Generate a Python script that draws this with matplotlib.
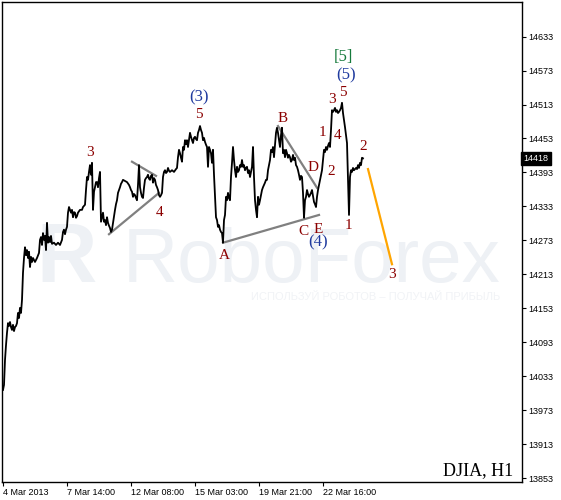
import matplotlib
matplotlib.use("Agg")
import matplotlib.pyplot as plt

# -------------------------------
# Data: DJIA H1 closes (bar index -> price)
# -------------------------------
bars = [3, 4, 5, 6, 7, 8, 9, 10, 11, 12, 13, 14, 15, 16, 17, 18, 19, 20, 21, 22,
        23, 24, 25, 26, 27, 28, 29, 30, 31, 32, 33, 35, 37, 39, 40, 41, 42, 43, 44, 45,
        46, 47, 48, 49, 50, 51, 52, 54, 56, 58, 60, 62, 63, 64, 65, 66, 67, 68, 69, 70,
        71, 72, 73, 74, 75, 76, 77, 78, 80, 82, 83, 85, 86, 87, 88, 89, 90, 91, 92, 93,
        94, 95, 96, 97, 98, 99, 100, 101, 102, 103, 104, 105, 106, 107, 108, 109, 110, 111, 112, 113,
        114, 115, 116, 117, 118, 119, 120, 121, 122, 123, 125, 127, 129, 130, 131, 132, 133, 134, 135, 136,
        137, 138, 139, 140, 141, 142, 143, 144, 145, 146, 147, 148, 149, 150, 151, 152, 153, 154, 155, 156,
        157, 158, 159, 160, 161, 162, 163, 164, 165, 166, 167, 168, 169, 170, 172, 174, 176, 177, 178, 179,
        180, 181, 182, 183, 184, 185, 186, 187, 188, 189, 190, 191, 192, 193, 194, 195, 196, 197, 198, 199,
        200, 201, 202, 203, 204, 205, 206, 207, 208, 209, 210, 211, 212, 213, 214, 215, 216, 217, 218, 219,
        220, 221, 222, 223, 224, 225, 226, 227, 228, 229, 230, 231, 232, 233, 234, 235, 236, 237, 238, 239,
        240, 241, 242, 243, 244, 245, 246, 247, 248, 249, 250, 251, 252, 253, 254, 255, 256, 257, 258, 259,
        260, 261, 262, 263, 264, 265, 266, 267, 268, 269, 270, 271, 272, 273, 274, 275, 276, 277, 278, 279,
        280, 281, 282, 283, 284, 285, 286, 287, 288, 289, 290, 291, 292, 293, 294, 295, 296, 297, 298, 299,
        300, 301, 302, 303, 304, 305, 306, 307, 308, 309, 310, 311, 312, 313, 314, 315, 316, 317, 318, 319,
        320, 321, 322, 323, 324, 325, 326, 327, 328, 329, 330, 331, 332, 333, 334, 335, 336, 337, 338, 339,
        340, 341, 342, 343, 344, 345, 346, 347, 348, 349, 350, 351, 352, 353, 354, 355, 356, 357, 358, 359,
        360, 361, 362, 363]
close = [14009, 14018, 14062, 14088, 14110, 14127, 14122, 14129, 14120, 14115, 14124, 14113, 14120, 14122, 14127, 14145, 14136, 14154, 14145, 14168,
         14216, 14242, 14261, 14247, 14256, 14242, 14253, 14226, 14244, 14235, 14242, 14235, 14242, 14251, 14274, 14279, 14265, 14286, 14274, 14281,
         14256, 14304, 14269, 14279, 14270, 14281, 14267, 14269, 14265, 14269, 14265, 14274, 14288, 14292, 14284, 14292, 14297, 14322, 14332, 14327,
         14322, 14327, 14314, 14323, 14322, 14313, 14316, 14322, 14327, 14327, 14332, 14336, 14362, 14385, 14380, 14394, 14406, 14389, 14410, 14327,
         14359, 14367, 14376, 14376, 14367, 14383, 14394, 14306, 14314, 14322, 14306, 14309, 14300, 14314, 14304, 14299, 14295, 14288, 14292, 14304,
         14316, 14327, 14337, 14344, 14357, 14362, 14367, 14373, 14376, 14380, 14378, 14376, 14371, 14367, 14362, 14359, 14350, 14355, 14353, 14348,
         14344, 14371, 14406, 14367, 14357, 14350, 14348, 14366, 14380, 14383, 14385, 14389, 14382, 14380, 14387, 14389, 14375, 14383, 14380, 14371,
         14367, 14362, 14353, 14350, 14353, 14357, 14385, 14394, 14397, 14392, 14394, 14401, 14396, 14394, 14397, 14394, 14399, 14401, 14420, 14433,
         14427, 14419, 14412, 14438, 14433, 14450, 14443, 14450, 14438, 14450, 14463, 14456, 14450, 14445, 14454, 14456, 14452, 14450, 14463, 14468,
         14475, 14468, 14463, 14450, 14454, 14447, 14442, 14438, 14403, 14438, 14433, 14427, 14410, 14433, 14389, 14353, 14314, 14309, 14297, 14300,
         14292, 14288, 14286, 14269, 14309, 14318, 14350, 14344, 14357, 14348, 14344, 14385, 14410, 14438, 14415, 14397, 14385, 14403, 14394, 14397,
         14406, 14403, 14415, 14403, 14406, 14397, 14401, 14403, 14392, 14397, 14385, 14394, 14403, 14438, 14385, 14344, 14327, 14314, 14350, 14336,
         14344, 14353, 14362, 14367, 14371, 14375, 14380, 14380, 14397, 14406, 14415, 14433, 14429, 14438, 14420, 14442, 14463, 14472, 14463, 14450,
         14438, 14459, 14472, 14427, 14433, 14420, 14433, 14427, 14419, 14424, 14420, 14412, 14415, 14424, 14415, 14419, 14406, 14403, 14397, 14389,
         14380, 14387, 14385, 14357, 14313, 14344, 14350, 14362, 14355, 14350, 14353, 14357, 14362, 14352, 14341, 14337, 14332, 14350, 14362, 14371,
         14380, 14389, 14397, 14415, 14433, 14429, 14438, 14433, 14440, 14445, 14438, 14468, 14503, 14500, 14503, 14507, 14500, 14503, 14498, 14500,
         14503, 14507, 14516, 14498, 14486, 14473, 14459, 14445, 14380, 14318, 14385, 14397, 14394, 14401, 14397, 14399, 14401, 14399, 14406, 14401,
         14410, 14406, 14419, 14418]

last_price = 14418

# Axis ticks
price_ticks = [13853, 13913, 13973, 14033, 14093, 14153, 14213, 14273,
               14333, 14393, 14453, 14513, 14573, 14633]
time_ticks = [3, 67, 131, 195, 259, 323]
time_labels = ["4 Mar 2013", "7 Mar 14:00", "12 Mar 08:00",
               "15 Mar 03:00", "19 Mar 21:00", "22 Mar 16:00"]

# Grey wave lines (bar, price)
tri_low_bars = [109, 159]
tri_low_prices = [14284, 14357]
tri_up_bars = [132, 156]
tri_up_prices = [14412, 14387]
ae_bars = [223, 319]
ae_prices = [14269, 14318]
bd_bars = [278, 317]
bd_prices = [14475, 14366]
# Orange projection
proj_bars = [368, 392]
proj_prices = [14399, 14231]

# Wave labels: (text, bar, price, colour, size)
red = "#8b0000"
blue = "#1f3a9e"
wave_labels = [
    ("3", 90, 14429, red, 11),
    ("4", 160, 14323, red, 11),
    ("(3)", 199, 14525, blue, 12),
    ("5", 199, 14496, red, 11),
    ("B", 283, 14488, red, 11),
    ("A", 224, 14247, red, 11),
    ("D", 313, 14401, red, 11),
    ("C", 303, 14288, red, 11),
    ("E", 318, 14293, red, 11),
    ("(4)", 318, 14269, blue, 12),
    ("1", 322, 14463, red, 11),
    ("4", 338, 14459, red, 11),
    ("2", 331, 14394, red, 11),
    ("3", 332, 14521, red, 11),
    ("5", 343, 14535, red, 11),
    ("(5)", 346, 14565, blue, 12),
    ("[5]", 343, 14597, "#167a3c", 12),
    ("2", 363, 14438, red, 11),
    ("1", 348, 14300, red, 11),
    ("3", 392, 14212, red, 11),
]

# -------------------------------
# Figure
# -------------------------------
fig = plt.figure(figsize=(5.61, 5.0), dpi=100)
ax = fig.add_axes([2 / 561, 18 / 500, 520 / 561, 480 / 500])

# Watermark (very faint, behind everything)
ax.text(0.595, 0.4167, "RoboForex", transform=ax.transAxes, ha="center",
        va="baseline", fontsize=55, color="#eef1f5", zorder=0,
        family=["Liberation Sans"])
ax.text(0.125, 0.4167, "R", transform=ax.transAxes, ha="center",
        va="baseline", fontsize=60, color="#eef1f5", zorder=0,
        family=["Liberation Sans"], fontweight="bold")
ax.text(0.719, 0.385, "ИСПОЛЬЗУЙ РОБОТОВ – ПОЛУЧАЙ ПРИБЫЛЬ",
        transform=ax.transAxes, ha="center", va="center", fontsize=8,
        color="#f1f3f6", zorder=0, family=["Liberation Sans"])

# Price line
ax.plot(bars, close, color="black", lw=1.3, zorder=3)

# Wave lines
for bx, py in [(tri_low_bars, tri_low_prices), (tri_up_bars, tri_up_prices),
               (ae_bars, ae_prices), (bd_bars, bd_prices)]:
    ax.plot(bx, py, color="#808080", lw=1.6, zorder=2)
ax.plot(proj_bars, proj_prices, color="#ffa500", lw=1.6, zorder=2)

for txt, bx, py, col, sz in wave_labels:
    ax.text(bx, py, txt, color=col, fontsize=sz, ha="center", va="center",
            family=["Liberation Serif"], zorder=4)

ax.text(0.983, 0.0146, "DJIA, H1", transform=ax.transAxes, ha="right",
        va="baseline", fontsize=13, family=["Liberation Serif"], color="black")

# Axes
ax.set_xlim(2, 522)
ax.set_ylim(13846.5, 14694)
ax.yaxis.tick_right()
ax.set_yticks(price_ticks)
ax.set_yticklabels([str(t) for t in price_ticks])
ax.set_xticks(time_ticks)
ax.set_xticklabels(time_labels, ha="left")
ax.tick_params(axis="both", direction="out", length=3, width=0.8,
               labelsize=6.5, pad=1.5, colors="black")
for lab in ax.get_xticklabels() + ax.get_yticklabels():
    lab.set_family("Liberation Sans")
for sp in ax.spines.values():
    sp.set_linewidth(1.0)

# Current price tag
ax.text(1.003, last_price, str(last_price), transform=ax.get_yaxis_transform(),
        ha="left", va="center", color="white", fontsize=6.5,
        family=["Liberation Sans"],
        bbox=dict(boxstyle="square,pad=0.25", fc="black", ec="black"))

fig.savefig("out.png", dpi=100)
